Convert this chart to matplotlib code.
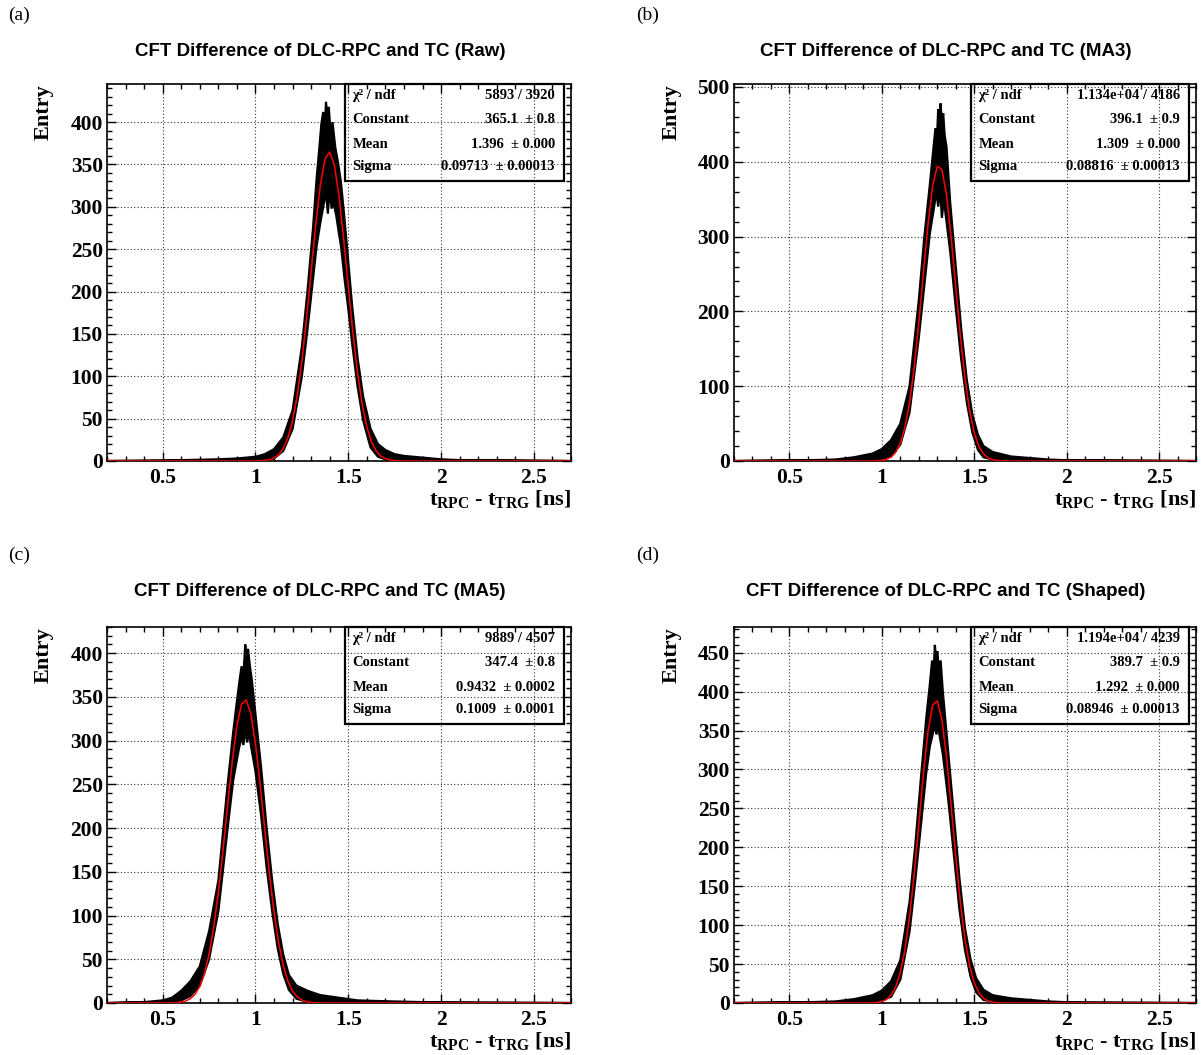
import numpy as np
import matplotlib
matplotlib.use('Agg')
import matplotlib.pyplot as plt
from matplotlib.ticker import MultipleLocator, FuncFormatter
from matplotlib.patches import Rectangle

plt.rcParams['mathtext.fontset'] = 'custom'
plt.rcParams['mathtext.rm'] = 'Liberation Serif:bold'
plt.rcParams['mathtext.it'] = 'Liberation Serif:bold'
plt.rcParams['mathtext.bf'] = 'Liberation Serif:bold'

# panel labels / titles
tags = ['(a)', '(b)', '(c)', '(d)']
titles = ['CFT Difference of DLC-RPC and TC (Raw)',
          'CFT Difference of DLC-RPC and TC (MA3)',
          'CFT Difference of DLC-RPC and TC (MA5)',
          'CFT Difference of DLC-RPC and TC (Shaped)']

# gaussian fit results (constant, mean, sigma) and stat box text
fit_const = [365.1, 396.1, 347.4, 389.7]
fit_mean = [1.396, 1.309, 0.9432, 1.292]
fit_sigma = [0.09713, 0.08816, 0.1009, 0.08946]
chi2_txt = ['5893 / 3920', '1.134e+04 / 4186', '9889 / 4507', '1.194e+04 / 4239']
const_txt = ['365.1  \u00b1 0.8', '396.1  \u00b1 0.9', '347.4  \u00b1 0.8', '389.7  \u00b1 0.9']
mean_txt = ['1.396  \u00b1 0.000', '1.309  \u00b1 0.000', '0.9432  \u00b1 0.0002', '1.292  \u00b1 0.000']
sigma_txt = ['0.09713  \u00b1 0.00013', '0.08816  \u00b1 0.00013', '0.1009  \u00b1 0.0001', '0.08946  \u00b1 0.00013']

# y axis range and tick steps
ymax = [445, 504, 430, 483]
ymajor = [50, 100, 50, 50]
yminor = [10, 20, 10, 10]

# histogram envelopes (upper / lower edge of the fine-binned data)
xh_a = [0.2, 0.6, 0.8, 0.9, 1.0, 1.05, 1.1, 1.15, 1.2, 1.25, 1.28, 1.31, 1.33, 1.345, 1.355, 1.365, 1.372, 1.38,
        1.388, 1.395, 1.405, 1.415, 1.43, 1.445, 1.46, 1.48, 1.5, 1.52, 1.55, 1.58, 1.62, 1.66, 1.7, 1.75, 1.8,
        1.9, 2.0, 2.1, 2.3, 2.7]
hh_a = [0, 1, 2, 3, 5, 8, 14, 28, 60, 135, 200, 275, 335, 372, 398, 412, 385, 424,
        402, 418, 385, 400, 370, 352, 330, 285, 235, 185, 122, 76, 38, 20, 13, 8, 6,
        4, 2, 1, 1, 0]
xl_a = [0.2, 1.0, 1.05, 1.1, 1.15, 1.2, 1.25, 1.28, 1.31, 1.33, 1.35, 1.365, 1.38, 1.39, 1.40, 1.41, 1.42,
        1.435, 1.45, 1.46, 1.48, 1.5, 1.52, 1.55, 1.58, 1.62, 1.66, 1.7, 1.8, 2.7]
ll_a = [0, 0, 1, 3, 12, 38, 100, 155, 215, 255, 282, 300, 318, 292, 322, 298, 305,
        290, 268, 255, 215, 180, 140, 88, 48, 16, 5, 2, 0, 0]

xh_b = [0.2, 0.6, 0.75, 0.85, 0.95, 1.0, 1.05, 1.1, 1.15, 1.2, 1.23, 1.26, 1.28, 1.29, 1.298, 1.305, 1.312,
        1.318, 1.325, 1.332, 1.34, 1.35, 1.37, 1.4, 1.43, 1.46, 1.49, 1.52, 1.55, 1.6, 1.7, 1.8, 1.9, 2.0,
        2.2, 2.7]
hh_b = [0, 1, 2, 5, 10, 16, 28, 50, 100, 215, 300, 370, 420, 445, 430, 470, 455,
        478, 450, 465, 435, 420, 345, 260, 175, 108, 62, 35, 20, 12, 6, 4, 2, 1,
        1, 0]
xl_b = [0.2, 0.95, 1.0, 1.05, 1.1, 1.15, 1.2, 1.23, 1.26, 1.28, 1.295, 1.305, 1.315, 1.325, 1.335, 1.35,
        1.37, 1.4, 1.43, 1.46, 1.49, 1.52, 1.55, 1.6, 1.7, 2.7]
ll_b = [0, 1, 3, 6, 22, 65, 165, 235, 305, 335, 360, 340, 365, 325, 350, 320,
        280, 205, 135, 78, 38, 15, 5, 2, 0, 0]

xh_c = [0.2, 0.4, 0.5, 0.55, 0.6, 0.65, 0.7, 0.75, 0.8, 0.85, 0.88, 0.9, 0.915, 0.925, 0.935, 0.945, 0.952,
        0.96, 0.97, 0.98, 1.0, 1.03, 1.06, 1.09, 1.12, 1.15, 1.18, 1.22, 1.28, 1.35, 1.45, 1.55, 1.7, 1.9, 2.7]
hh_c = [0, 1, 3, 6, 14, 25, 42, 82, 140, 250, 310, 345, 370, 385, 375, 410, 395,
        405, 385, 370, 330, 270, 200, 140, 90, 55, 32, 20, 14, 9, 6, 3, 2, 1, 0]
xl_c = [0.2, 0.55, 0.6, 0.65, 0.7, 0.75, 0.8, 0.85, 0.88, 0.91, 0.925, 0.935, 0.945, 0.955, 0.965, 0.975,
        1.0, 1.03, 1.06, 1.09, 1.12, 1.15, 1.18, 1.22, 1.3, 2.7]
ll_c = [0, 1, 3, 8, 20, 50, 105, 200, 255, 290, 305, 295, 315, 298, 310, 295,
        265, 215, 155, 105, 62, 33, 15, 5, 0, 0]

xh_d = [0.2, 0.6, 0.75, 0.85, 0.95, 1.0, 1.05, 1.1, 1.15, 1.18, 1.21, 1.24, 1.26, 1.272, 1.28, 1.287, 1.294,
        1.3, 1.308, 1.318, 1.33, 1.36, 1.39, 1.42, 1.45, 1.48, 1.51, 1.55, 1.6, 1.7, 1.8, 1.9, 2.0, 2.7]
hh_d = [0, 1, 2, 5, 10, 16, 28, 55, 130, 200, 285, 365, 410, 440, 425, 460, 440,
        452, 430, 440, 400, 320, 240, 160, 96, 56, 32, 17, 10, 6, 4, 2, 1, 0]
xl_d = [0.2, 0.95, 1.0, 1.05, 1.1, 1.15, 1.18, 1.21, 1.24, 1.26, 1.275, 1.285, 1.295, 1.305, 1.315, 1.33,
        1.36, 1.39, 1.42, 1.45, 1.48, 1.51, 1.55, 1.6, 1.7, 2.7]
ll_d = [0, 1, 4, 8, 30, 92, 155, 225, 295, 330, 345, 360, 345, 355, 340, 320,
        260, 190, 120, 68, 34, 14, 4, 2, 0, 0]

up_x = [xh_a, xh_b, xh_c, xh_d]
up_y = [hh_a, hh_b, hh_c, hh_d]
low_x = [xl_a, xl_b, xl_c, xl_d]
low_y = [ll_a, ll_b, ll_c, ll_d]

fig = plt.figure(figsize=(12.04, 10.55), dpi=100)

# axes boxes in figure pixels (left, top, width, height)
boxes = [(107, 84, 464, 377), (734, 84, 462, 377), (107, 627, 464, 376), (734, 627, 462, 376)]
W, H = 1204., 1055.

serif = 'Liberation Serif'
sans = 'Liberation Sans'

for i in range(4):
    l, t, w, h = boxes[i]
    ax = fig.add_axes([l / W, 1 - (t + h) / H, w / W, h / H])

    # histogram drawn as a filled band between its upper and lower edges
    px = np.concatenate([up_x[i], low_x[i][::-1]])
    py = np.concatenate([up_y[i], low_y[i][::-1]])
    ax.fill(px, py, facecolor='black', edgecolor='black', lw=1.6, zorder=3)

    # fit function, drawn with 100 points like ROOT does
    xf = np.linspace(0.2, 2.7, 101)
    yf = fit_const[i] * np.exp(-0.5 * ((xf - fit_mean[i]) / fit_sigma[i]) ** 2)
    ax.plot(xf, yf, color='red', lw=1.1, zorder=4)

    ax.set_xlim(0.2, 2.7)
    ax.set_ylim(0, ymax[i])
    ax.xaxis.set_major_locator(MultipleLocator(0.5))
    ax.xaxis.set_minor_locator(MultipleLocator(0.1))
    ax.yaxis.set_major_locator(MultipleLocator(ymajor[i]))
    ax.yaxis.set_minor_locator(MultipleLocator(yminor[i]))
    ax.xaxis.set_major_formatter(FuncFormatter(lambda v, p: '%g' % v))
    ax.tick_params(which='both', direction='in', top=True, right=True, width=1.0)
    ax.tick_params(which='major', length=6.5)
    ax.tick_params(which='minor', length=3.5)
    ax.tick_params(axis='y', pad=3)
    ax.tick_params(axis='x', pad=5)
    for lab in ax.get_xticklabels() + ax.get_yticklabels():
        lab.set_fontfamily(serif)
        lab.set_fontweight('bold')
        lab.set_fontsize(15.5)
    ax.grid(True, which='major', color='#333333', linestyle=(0, (1, 2)), lw=0.8)
    ax.set_axisbelow(True)
    for s in ax.spines.values():
        s.set_linewidth(1.2)

    ax.set_ylabel('Entry', loc='top', fontfamily=serif, fontweight='bold', fontsize=16)
    ax.yaxis.set_label_coords(-0.114, 1.0)
    ax.set_xlabel(r'$t_{RPC}$ - $t_{TRG}$ [ns]', loc='right', fontfamily=serif,
                  fontweight='bold', fontsize=16)
    ax.xaxis.set_label_coords(1.0, -0.072)

    # stat box
    ax.add_patch(Rectangle((0.512, 0.743), 0.473, 0.257, transform=ax.transAxes,
                           fill=False, lw=1.6, color='black', zorder=5, clip_on=False))
    rows = [('\u03c7\u00b2 / ndf', chi2_txt[i]), ('Constant', const_txt[i]),
            ('Mean', mean_txt[i]), ('Sigma', sigma_txt[i])]
    ys = [0.969, 0.905, 0.84, 0.78]
    for (name, val), yy in zip(rows, ys):
        ax.text(0.529, yy, name, transform=ax.transAxes, ha='left', va='center',
                fontfamily=serif, fontweight='bold', fontsize=10.5, zorder=6)
        ax.text(0.965, yy, val, transform=ax.transAxes, ha='right', va='center',
                fontfamily=serif, fontweight='bold', fontsize=10.5, zorder=6)

    # title and panel tag
    cx = 320 if i % 2 == 0 else 946
    ty = 52 if i < 2 else 592
    fig.text(cx / W, 1 - ty / H, titles[i], ha='center', va='center',
             fontfamily=sans, fontweight='bold', fontsize=13.5)
    tx = 8 if i % 2 == 0 else 636
    tgy = 15 if i < 2 else 555
    fig.text(tx / W, 1 - tgy / H, tags[i], ha='left', va='center',
             fontfamily=serif, fontsize=14)

fig.savefig('out.png', dpi=100)
